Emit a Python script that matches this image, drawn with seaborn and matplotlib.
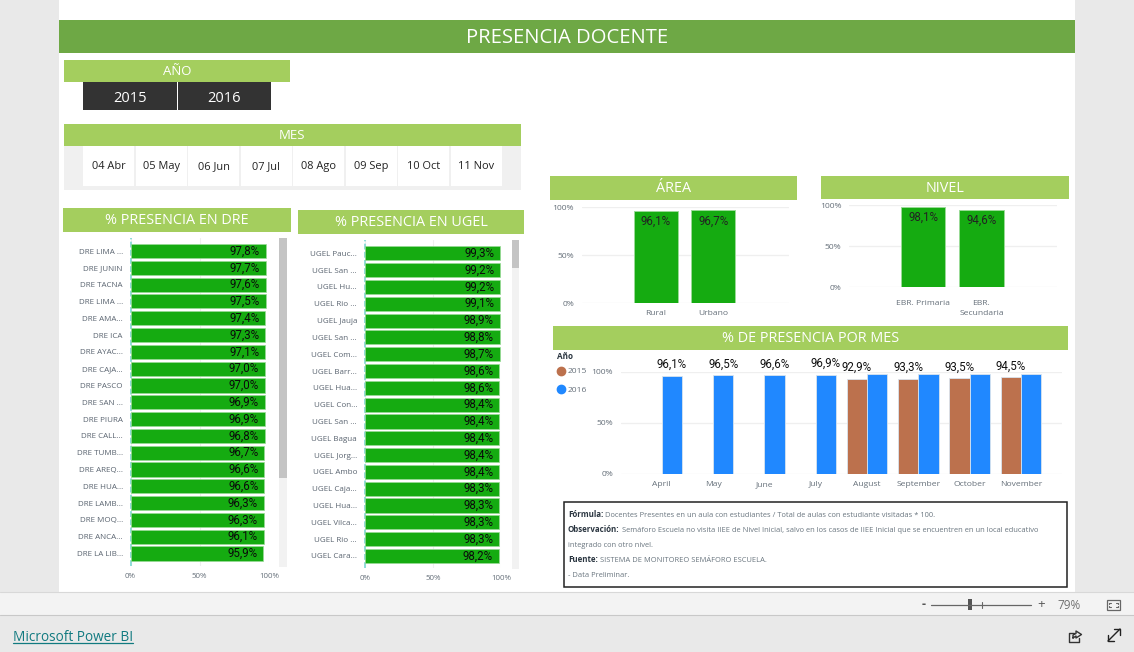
"""
Recreates the "Presencia docente" Power BI report page with seaborn bar charts.
"""

import matplotlib.pyplot as plt
import numpy as np
import pandas as pd
import seaborn as sns
from matplotlib.lines import Line2D
from matplotlib.patches import Rectangle

# Data
DRE_LABELS = ["DRE LIMA ...", "DRE JUNIN", "DRE TACNA", "DRE LIMA ...", "DRE AMA...", "DRE ICA",
              "DRE AYAC...", "DRE CAJA...", "DRE PASCO", "DRE SAN ...", "DRE PIURA", "DRE CALL...",
              "DRE TUMB...", "DRE AREQ...", "DRE HUA...", "DRE LAMB...", "DRE MOQ...", "DRE ANCA...",
              "DRE LA LIB..."]
DRE_VALUES = [97.8, 97.7, 97.6, 97.5, 97.4, 97.3, 97.1, 97.0, 97.0, 96.9, 96.9, 96.8, 96.7, 96.6,
              96.6, 96.3, 96.3, 96.1, 95.9]

UGEL_LABELS = ["UGEL Pauc...", "UGEL San ...", "UGEL Hu...", "UGEL Rio ...", "UGEL Jauja", "UGEL San ...",
               "UGEL Com...", "UGEL Barr...", "UGEL Hua...", "UGEL Con...", "UGEL San ...", "UGEL Bagua",
               "UGEL Jorg...", "UGEL Ambo", "UGEL Caja...", "UGEL Hua...", "UGEL Vilca...", "UGEL Rio ...",
               "UGEL Cara..."]
UGEL_VALUES = [99.3, 99.2, 99.2, 99.1, 98.9, 98.8, 98.7, 98.6, 98.6, 98.4, 98.4, 98.4, 98.4, 98.4,
               98.3, 98.3, 98.3, 98.3, 98.2]

AREA_LABELS = ["Rural", "Urbano"]
AREA_VALUES = [96.1, 96.7]

NIVEL_LABELS = ["EBR. Primaria", "EBR.\nSecundaria"]
NIVEL_VALUES = [98.1, 94.6]

MONTHS = ["April", "May", "June", "July", "August", "September", "October", "November"]
VALUES_2015 = [np.nan, np.nan, np.nan, np.nan, 92.9, 93.3, 93.5, 94.5]
VALUES_2016 = [96.1, 96.5, 96.6, 96.9, 97.4, 98.0, 98.0, 97.4]
LABELED_2016 = ["April", "May", "June", "July"]

YEARS = ["2015", "2016"]
MONTH_BUTTONS = ["04 Abr", "05 May", "06 Jun", "07 Jul", "08 Ago", "09 Sep", "10 Oct", "11 Nov"]

# Colours
GREEN_DARK = "#6EA845"
GREEN_LIGHT = "#A4CE5E"
BAR_GREEN = "#15AB11"
BAR_EDGE = "#9ADB97"
BLUE = "#2088FF"
BROWN = "#BC714D"
GRID = "#EFEFEF"
TICK = "#66707A"
CHROME = "#E9E9E9"

W, H = 1134, 652
FONT = "Open Sans"
VALUE_FONT = "Roboto"

sns.set_theme(style="white")
plt.rcParams["font.family"] = [FONT, "DejaVu Sans"]

fig = plt.figure(figsize=(W / 100, H / 100), dpi=100, facecolor="white")

# Overlay in pixel coordinates for the report chrome
page = fig.add_axes([0, 0, 1, 1], zorder=0)
page.set_xlim(0, W)
page.set_ylim(H, 0)
page.axis("off")


def box(x0, y0, x1, y1, color, **kwargs):
    page.add_patch(Rectangle((x0, y0), x1 - x0, y1 - y0, facecolor=color, edgecolor="none", **kwargs))


def stroke(xs, ys, color="#333333", width=1.0):
    page.plot(xs, ys, color=color, linewidth=width, solid_capstyle="round")


def header(x0, y0, x1, y1, text, size=11, color=GREEN_LIGHT):
    box(x0, y0, x1, y1, color)
    page.text((x0 + x1) / 2, (y0 + y1) / 2 - 1, text, color="white", fontsize=size, ha="center",
              va="center_baseline")


def chart_axes(x0, y0, x1, y1):
    """Axes placed by pixel box, transparent so the page shows through."""
    ax = fig.add_axes([x0 / W, 1 - y1 / H, (x1 - x0) / W, (y1 - y0) / H], zorder=2)
    ax.patch.set_alpha(0)
    sns.despine(ax=ax, left=True, bottom=True, top=True, right=True)
    return ax


def baseline_xticks(ax):
    # keeps words with and without ascenders on one line
    for label in ax.get_xticklabels():
        label.set_verticalalignment("baseline")


def pct(value):
    return f"{value:.1f}%".replace(".", ",")


def hbar_panel(box_px, labels, values, first_center, last_center):
    x0, y0, x1, y1 = box_px
    ax = chart_axes(x0, y0, x1, y1)
    positions = np.arange(len(labels))
    sns.barplot(x=values, y=positions, orient="h", color=BAR_GREEN, saturation=1, width=0.84,
                edgecolor=BAR_EDGE, linewidth=0.5, ax=ax, zorder=3)
    step = (last_center - first_center) / (len(labels) - 1)
    ax.set_ylim((y1 - first_center) / step, (y0 - first_center) / step)
    ax.set_xlim(0, 100)
    ax.set_xticks([0, 50, 100], ["0%", "50%", "100%"])
    ax.set_yticks(positions, labels)
    ax.set_xlabel("")
    ax.set_ylabel("")
    ax.tick_params(axis="y", length=0, pad=5.5, labelsize=5.8, labelcolor="#5A6470")
    ax.tick_params(axis="x", length=0, pad=8.6, labelsize=5.7, labelcolor=TICK)
    baseline_xticks(ax)
    ax.xaxis.grid(True, color=GRID, linewidth=0.8, zorder=0)
    ax.axvline(0, color="#8FDCD8", linewidth=1.4, linestyle=(0, (3, 1.2)), zorder=2, clip_on=False)
    for ann in ax.bar_label(ax.containers[0], labels=[pct(v) for v in values], label_type="edge",
                            padding=-4.2, fontsize=8.3, color="#0B0B0B", family=VALUE_FONT):
        ann.set_ha("right")
    return ax


def vbar_panel(box_px, labels, values, xlim, xpad, baseline=True):
    ax = chart_axes(*box_px)
    sns.barplot(x=labels, y=values, color=BAR_GREEN, saturation=1, width=0.76,
                edgecolor=BAR_EDGE, linewidth=0.7, ax=ax, zorder=3)
    ax.set_xlim(*xlim)
    ax.set_ylim(0, 100)
    ax.set_yticks([0, 50, 100], ["0%", "50%", "100%"])
    ax.tick_params(axis="both", length=0, labelsize=6.1, labelcolor=TICK)
    ax.tick_params(axis="y", pad=5.5)
    ax.tick_params(axis="x", pad=xpad)
    if baseline:
        baseline_xticks(ax)
    else:
        # wrapped labels hang from the top of the first line
        for label in ax.get_xticklabels():
            label.set_linespacing(1.75)
    ax.yaxis.grid(True, color=GRID, linewidth=0.9, zorder=0)
    ax.bar_label(ax.containers[0], labels=[pct(v) for v in values], label_type="edge",
                 padding=-12.5, fontsize=8.3, color="#222222", family=VALUE_FONT)
    return ax


# Window chrome
box(0, 0, 59, 592, CHROME)
box(1075, 0, W, 592, CHROME)
box(0, 592, W, 615, "#F3F3F3")
box(0, 615, W, H, CHROME)
page.plot([0, W], [592, 592], color="#D8D8D8", linewidth=0.8)
page.plot([0, W], [615, 615], color="#C8C8C8", linewidth=0.8)

# Title and slicers
header(59, 20, 1075, 53, "PRESENCIA DOCENTE", size=14.6, color=GREEN_DARK)
header(64, 60, 290, 82, "AÑO", size=9.5)
for x0, x1, year in zip([83, 178], [177, 271], YEARS):
    box(x0, 82, x1, 110, "#333333")
    page.text((x0 + x1) / 2, 96.5, year, color="white", fontsize=10.5, ha="center", va="center_baseline")

header(64, 124, 521, 146, "MES", size=9.5)
box(64, 146, 521, 190, "#F0F0F0")
for i, name in enumerate(MONTH_BUTTONS):
    left = 83 + i * 52.5
    box(left, 146, left + 51.3, 186, "white")
    page.text(left + 25.6, 169, name, color="#222222", fontsize=7.9, ha="center", va="baseline")

# Panel headers
header(63, 208, 291, 232, "% PRESENCIA EN DRE", size=10.4)
header(298, 210, 524, 234, "% PRESENCIA EN UGEL", size=10.4)
header(550, 176, 797, 200, "ÁREA", size=10.4)
header(821, 176, 1069, 199, "NIVEL", size=10.4)
header(553, 326, 1068, 350, "% DE PRESENCIA POR MES", size=10.4)

# Scrollbars
box(279, 238, 287, 567, "#F2F2F2")
box(279, 238, 287, 478, "#C4C4C4")
box(512, 240, 519, 569, "#F2F2F2")
box(512, 240, 519, 268, "#C4C4C4")

# Bar charts
hbar_panel((130.5, 238, 269, 566), DRE_LABELS, DRE_VALUES, 251, 553.5)
hbar_panel((364.7, 240, 501.3, 568), UGEL_LABELS, UGEL_VALUES, 253.3, 556)

vbar_panel((581.7, 207, 789, 303.3), AREA_LABELS, AREA_VALUES, (-1.28, 2.31), 8.4)
vbar_panel((849, 205.3, 1057, 287.3), NIVEL_LABELS, NIVEL_VALUES, (-1.28, 2.3), 8.8, baseline=False)

# Monthly chart, grouped by year
month_df = pd.DataFrame({
    "Mes": MONTHS * 2,
    "Año": [YEARS[0]] * len(MONTHS) + [YEARS[1]] * len(MONTHS),
    "Presencia": VALUES_2015 + VALUES_2016,
})
month_ax = chart_axes(620.7, 371.7, 1062, 474)
sns.barplot(data=month_df, x="Mes", y="Presencia", hue="Año", order=MONTHS, hue_order=YEARS,
            palette=[BROWN, BLUE], saturation=1, width=0.79, edgecolor="#D9E4EE", linewidth=0.6,
            legend=False, ax=month_ax, zorder=3)
month_ax.set_xlim(-0.8, 7.8)
month_ax.set_ylim(0, 100)
month_ax.set_yticks([0, 50, 100], ["0%", "50%", "100%"])
month_ax.set_xlabel("")
month_ax.set_ylabel("")
month_ax.tick_params(axis="both", length=0, labelsize=6.1, labelcolor=TICK)
month_ax.tick_params(axis="x", pad=8.6)
month_ax.tick_params(axis="y", pad=5.5)
baseline_xticks(month_ax)
month_ax.yaxis.grid(True, color=GRID, linewidth=0.9, zorder=0)
for container, year in zip(month_ax.containers, YEARS):
    shown = []
    for value, patch in zip(container.datavalues, container.patches):
        month = MONTHS[int(round(patch.get_x() + patch.get_width() / 2))]
        keep = not np.isnan(value) and (year == YEARS[0] or month in LABELED_2016)
        shown.append(pct(value) if keep else "")
    month_ax.bar_label(container, labels=shown, label_type="edge", padding=3.4, fontsize=8.3,
                       color="#111111", family=VALUE_FONT, clip_on=False)

legend_handles = [Line2D([], [], marker="o", linestyle="", markersize=6, color=c, label=y)
                  for c, y in zip([BROWN, BLUE], YEARS)]
month_ax.legend(handles=legend_handles, frameon=False, loc="upper left",
                bbox_to_anchor=(550 / W, 1 - 365 / H), bbox_transform=fig.transFigure,
                fontsize=6.1, labelcolor=TICK, handletextpad=-0.2, labelspacing=1.25, borderpad=0.3,
                borderaxespad=0)
page.text(557, 355.5, "Año", fontsize=5.9, fontweight="bold", color="#2A3540", ha="left", va="center_baseline")

# Notes box
page.add_patch(Rectangle((563.5, 501.5), 503.5, 85, facecolor="white", edgecolor="#222222", linewidth=1.1))
NOTE_LINES = [
    (517, "Fórmula:", "Docentes Presentes en un aula con estudiantes / Total de aulas con estudiante visitadas * 100."),
    (532, "Observación:", "Semáforo Escuela no visita IIEE de Nivel Inicial, salvo en los casos de IIEE Inicial que se encuentren en un local educativo"),
    (547, "", "integrado con otro nivel."),
    (562, "Fuente:", "SISTEMA DE MONITOREO SEMÁFORO ESCUELA."),
    (577, "", "- Data Preliminar."),
]
for y, bold, rest in NOTE_LINES:
    x = 568
    if bold:
        lead = page.text(x, y, bold, fontsize=5.7, fontweight="bold", color="#2A3540", ha="left", va="baseline")
        lead_box = lead.get_window_extent(fig.canvas.get_renderer())
        x = page.transData.inverted().transform((lead_box.x1, 0))[0] + 2
    page.text(x, y, rest, fontsize=5.45, color="#69757F", ha="left", va="baseline")

# Zoom bar
page.text(924, 604.5, "-", fontsize=9, color="#555555", ha="center", va="center", fontweight="bold")
page.plot([931, 1031], [604.5, 604.5], color="#666666", linewidth=0.9)
box(968, 599, 972, 610, "#555555")
page.plot([981.5, 981.5], [601.5, 607.5], color="#666666", linewidth=0.8)
page.text(1041, 604.5, "+", fontsize=9.5, color="#555555", ha="center", va="center")
page.text(1069, 604, "79%", fontsize=8.5, color="#707070", ha="center", va="center_baseline")
page.add_patch(Rectangle((1106.5, 600), 13.5, 9.5, facecolor="none", edgecolor="#666666", linewidth=0.9))
stroke([1109, 1109, 1111], [604, 602.5, 602.5], "#666666", 0.8)
stroke([1115.5, 1117.5, 1117.5], [602.5, 602.5, 604], "#666666", 0.8)
stroke([1109, 1109, 1111], [605.5, 607, 607], "#666666", 0.8)
stroke([1115.5, 1117.5, 1117.5], [607, 607, 605.5], "#666666", 0.8)

# Footer
page.text(13, 635.5, "Microsoft Power BI", fontsize=9.8, color="#117A80", ha="left", va="center_baseline")
page.plot([13, 133], [642.5, 642.5], color="#117A80", linewidth=0.9)
# share icon
stroke([1074, 1069, 1069, 1079, 1079], [633, 633, 641.5, 641.5, 637.5])
stroke([1073, 1073, 1076, 1076, 1081.5, 1076, 1076, 1073], [638, 635, 633.5, 631, 634.5, 638, 636, 638])
# expand icon
stroke([1108, 1120], [641, 629], "#222222")
stroke([1114, 1120, 1120], [629, 629, 635], "#222222")
stroke([1108, 1108, 1114], [635, 641, 641], "#222222")

fig.savefig("out.png", dpi=100)
plt.close(fig)
